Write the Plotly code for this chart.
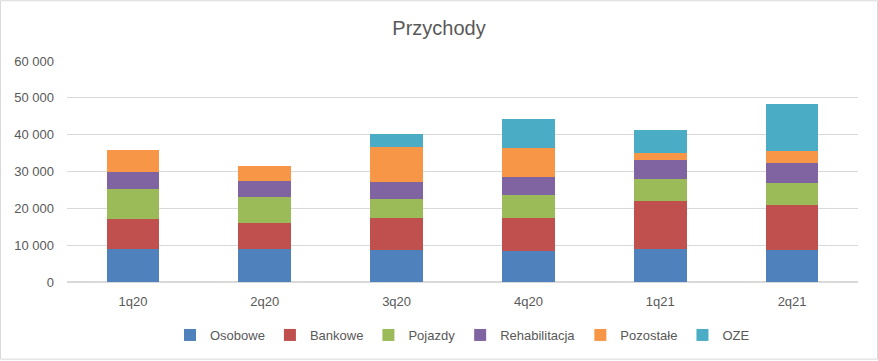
import plotly.graph_objects as go

categories = ["1q20", "2q20", "3q20", "4q20", "1q21", "2q21"]
osobowe = [9000, 9000, 8650, 8500, 9000, 8650]
bankowe = [8050, 6950, 8650, 8800, 12900, 12300]
pojazdy = [8100, 7050, 5150, 6300, 5950, 5850]
rehabilitacja = [4600, 4350, 4600, 4900, 5150, 5400]
pozostale = [6200, 4050, 9550, 7750, 2000, 3350]
oze = [0, 0, 3450, 8100, 6150, 12650]

series = [
    ("Osobowe", osobowe, "#4F81BD"),
    ("Bankowe", bankowe, "#C0504D"),
    ("Pojazdy", pojazdy, "#9BBB59"),
    ("Rehabilitacja", rehabilitacja, "#8064A2"),
    ("Pozostałe", pozostale, "#F79646"),
    ("OZE", oze, "#4BACC6"),
]

y_ticks = [0, 10000, 20000, 30000, 40000, 50000, 60000]
y_tick_text = ["0", "10 000", "20 000", "30 000", "40 000", "50 000", "60 000"]

fig = go.Figure()
for name, vals, color in series:
    fig.add_trace(go.Bar(x=categories, y=vals, name=name, marker=dict(color=color, line=dict(width=0))))

W, H = 878, 361
L, R, T, B = 67, 20, 61, 78
pw, ph = W - L - R, H - T - B

fig.update_layout(
    width=W, height=H,
    barmode="stack", bargap=0.6,
    paper_bgcolor="white", plot_bgcolor="white",
    margin=dict(l=L, r=R, t=T, b=B),
    font=dict(family="Liberation Sans, Arial, sans-serif", color="#595959", size=13),
    title=dict(text="Przychody", x=0.5, xanchor="center", y=1 - 28 / H, yanchor="middle",
               font=dict(size=20, color="#595959")),
    xaxis=dict(showgrid=False, showline=False, ticks="", ticklabelstandoff=10,
               tickfont=dict(size=13, color="#595959")),
    yaxis=dict(range=[0, 60000], tickvals=y_ticks, ticktext=y_tick_text, showgrid=True,
               gridcolor="#D9D9D9", gridwidth=1, zeroline=True, zerolinecolor="#D9D9D9",
               showline=False, ticks="", ticklabelstandoff=12,
               tickfont=dict(size=13, color="#595959")),
    legend=dict(orientation="h", x=0.5, xanchor="center", y=(H - B - 335) / ph,
                yanchor="middle", font=dict(size=13, color="#595959"), traceorder="normal",
                itemwidth=30),
    showlegend=True,
)

fig.add_shape(type="rect", xref="paper", yref="paper",
              x0=(0.5 - L) / pw, x1=(W - 0.5 - L) / pw,
              y0=(H - B - (H - 0.5)) / ph, y1=(H - B - 0.5) / ph,
              line=dict(color="#D9D9D9", width=1), fillcolor="rgba(0,0,0,0)", layer="above")

fig.write_html("out.html", config={"displayModeBar": False},
               post_script="document.body.style.margin='0';document.body.style.overflow='hidden';")
